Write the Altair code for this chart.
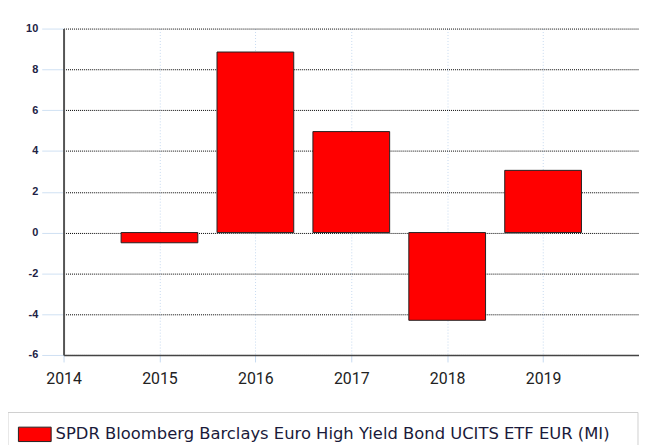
import altair as alt
import pandas as pd

years = [2015, 2016, 2017, 2018, 2019]
values = [-0.5, 8.85, 4.95, -4.3, 3.05]
series_name = "SPDR Bloomberg Barclays Euro High Yield Bond UCITS ETF EUR (MI)"
x_ticks = [2014, 2015, 2016, 2017, 2018, 2019]
y_ticks = [-6, -4, -2, 0, 2, 4, 6, 8, 10]

df = pd.DataFrame({"year": years, "value": values})
df["x0"] = df["year"] - 0.4
df["x1"] = df["year"] + 0.4
df["series"] = series_name

box = alt.Chart(pd.DataFrame({"k": [0]})).mark_rect(
    fill="white", stroke="#cfcfcf", strokeWidth=1
).encode(
    x=alt.value(-56), x2=alt.value(579), y=alt.value(387), y2=alt.value(480)
)

bars = alt.Chart(df).mark_rect(stroke="#222222", strokeWidth=1).encode(
    x=alt.X("x0:Q",
            scale=alt.Scale(domain=[2014, 2020], nice=False, zero=False),
            axis=alt.Axis(values=x_ticks, format="d", title=None,
                          grid=True, gridColor="#c6daf0", gridDash=[1, 2],
                          gridWidth=1,
                          domainColor="#444444", domainWidth=1.5,
                          tickColor="#c6daf0", tickSize=7,
                          labelFont="Roboto", labelFontSize=16,
                          labelColor="#222222", labelPadding=9)),
    x2="x1:Q",
    y=alt.Y("value:Q",
            scale=alt.Scale(domain=[-6, 10], nice=False),
            axis=alt.Axis(values=y_ticks, title=None,
                          labelExpr="'' + datum.value",
                          grid=True, gridColor="#000000", gridDash=[1, 1],
                          gridWidth=1,
                          domainColor="#555555", domainWidth=2,
                          tickColor="#cfe1f3", tickSize=22,
                          labelFont="Liberation Sans", labelFontSize=11,
                          labelFontWeight="bold",
                          labelColor="#222244", labelPadding=4)),
    y2=alt.datum(0),
    color=alt.Color("series:N",
                    scale=alt.Scale(range=["#ff0000"]),
                    legend=alt.Legend(orient="none", legendX=-46, legendY=392,
                                      title=None, padding=0,
                                      symbolType="M-1,-0.44H1V0.44H-1Z",
                                      symbolSize=1089,
                                      symbolStrokeColor="#222222",
                                      symbolStrokeWidth=1,
                                      symbolOpacity=1,
                                      labelFont="DejaVu Sans",
                                      labelFontSize=16.5,
                                      labelColor="#1a1a3a",
                                      labelOffset=4,
                                      labelLimit=0)),
)

chart = alt.layer(box, bars).properties(
    width=580, height=329,
    autosize=alt.AutoSizeParams(type="none"),
    padding={"left": 56, "top": 19, "right": 0, "bottom": 89},
).configure_view(stroke=None).configure_axis(labelFlush=False)

chart.save("out.html", embed_options={"renderer": "svg", "actions": False})
